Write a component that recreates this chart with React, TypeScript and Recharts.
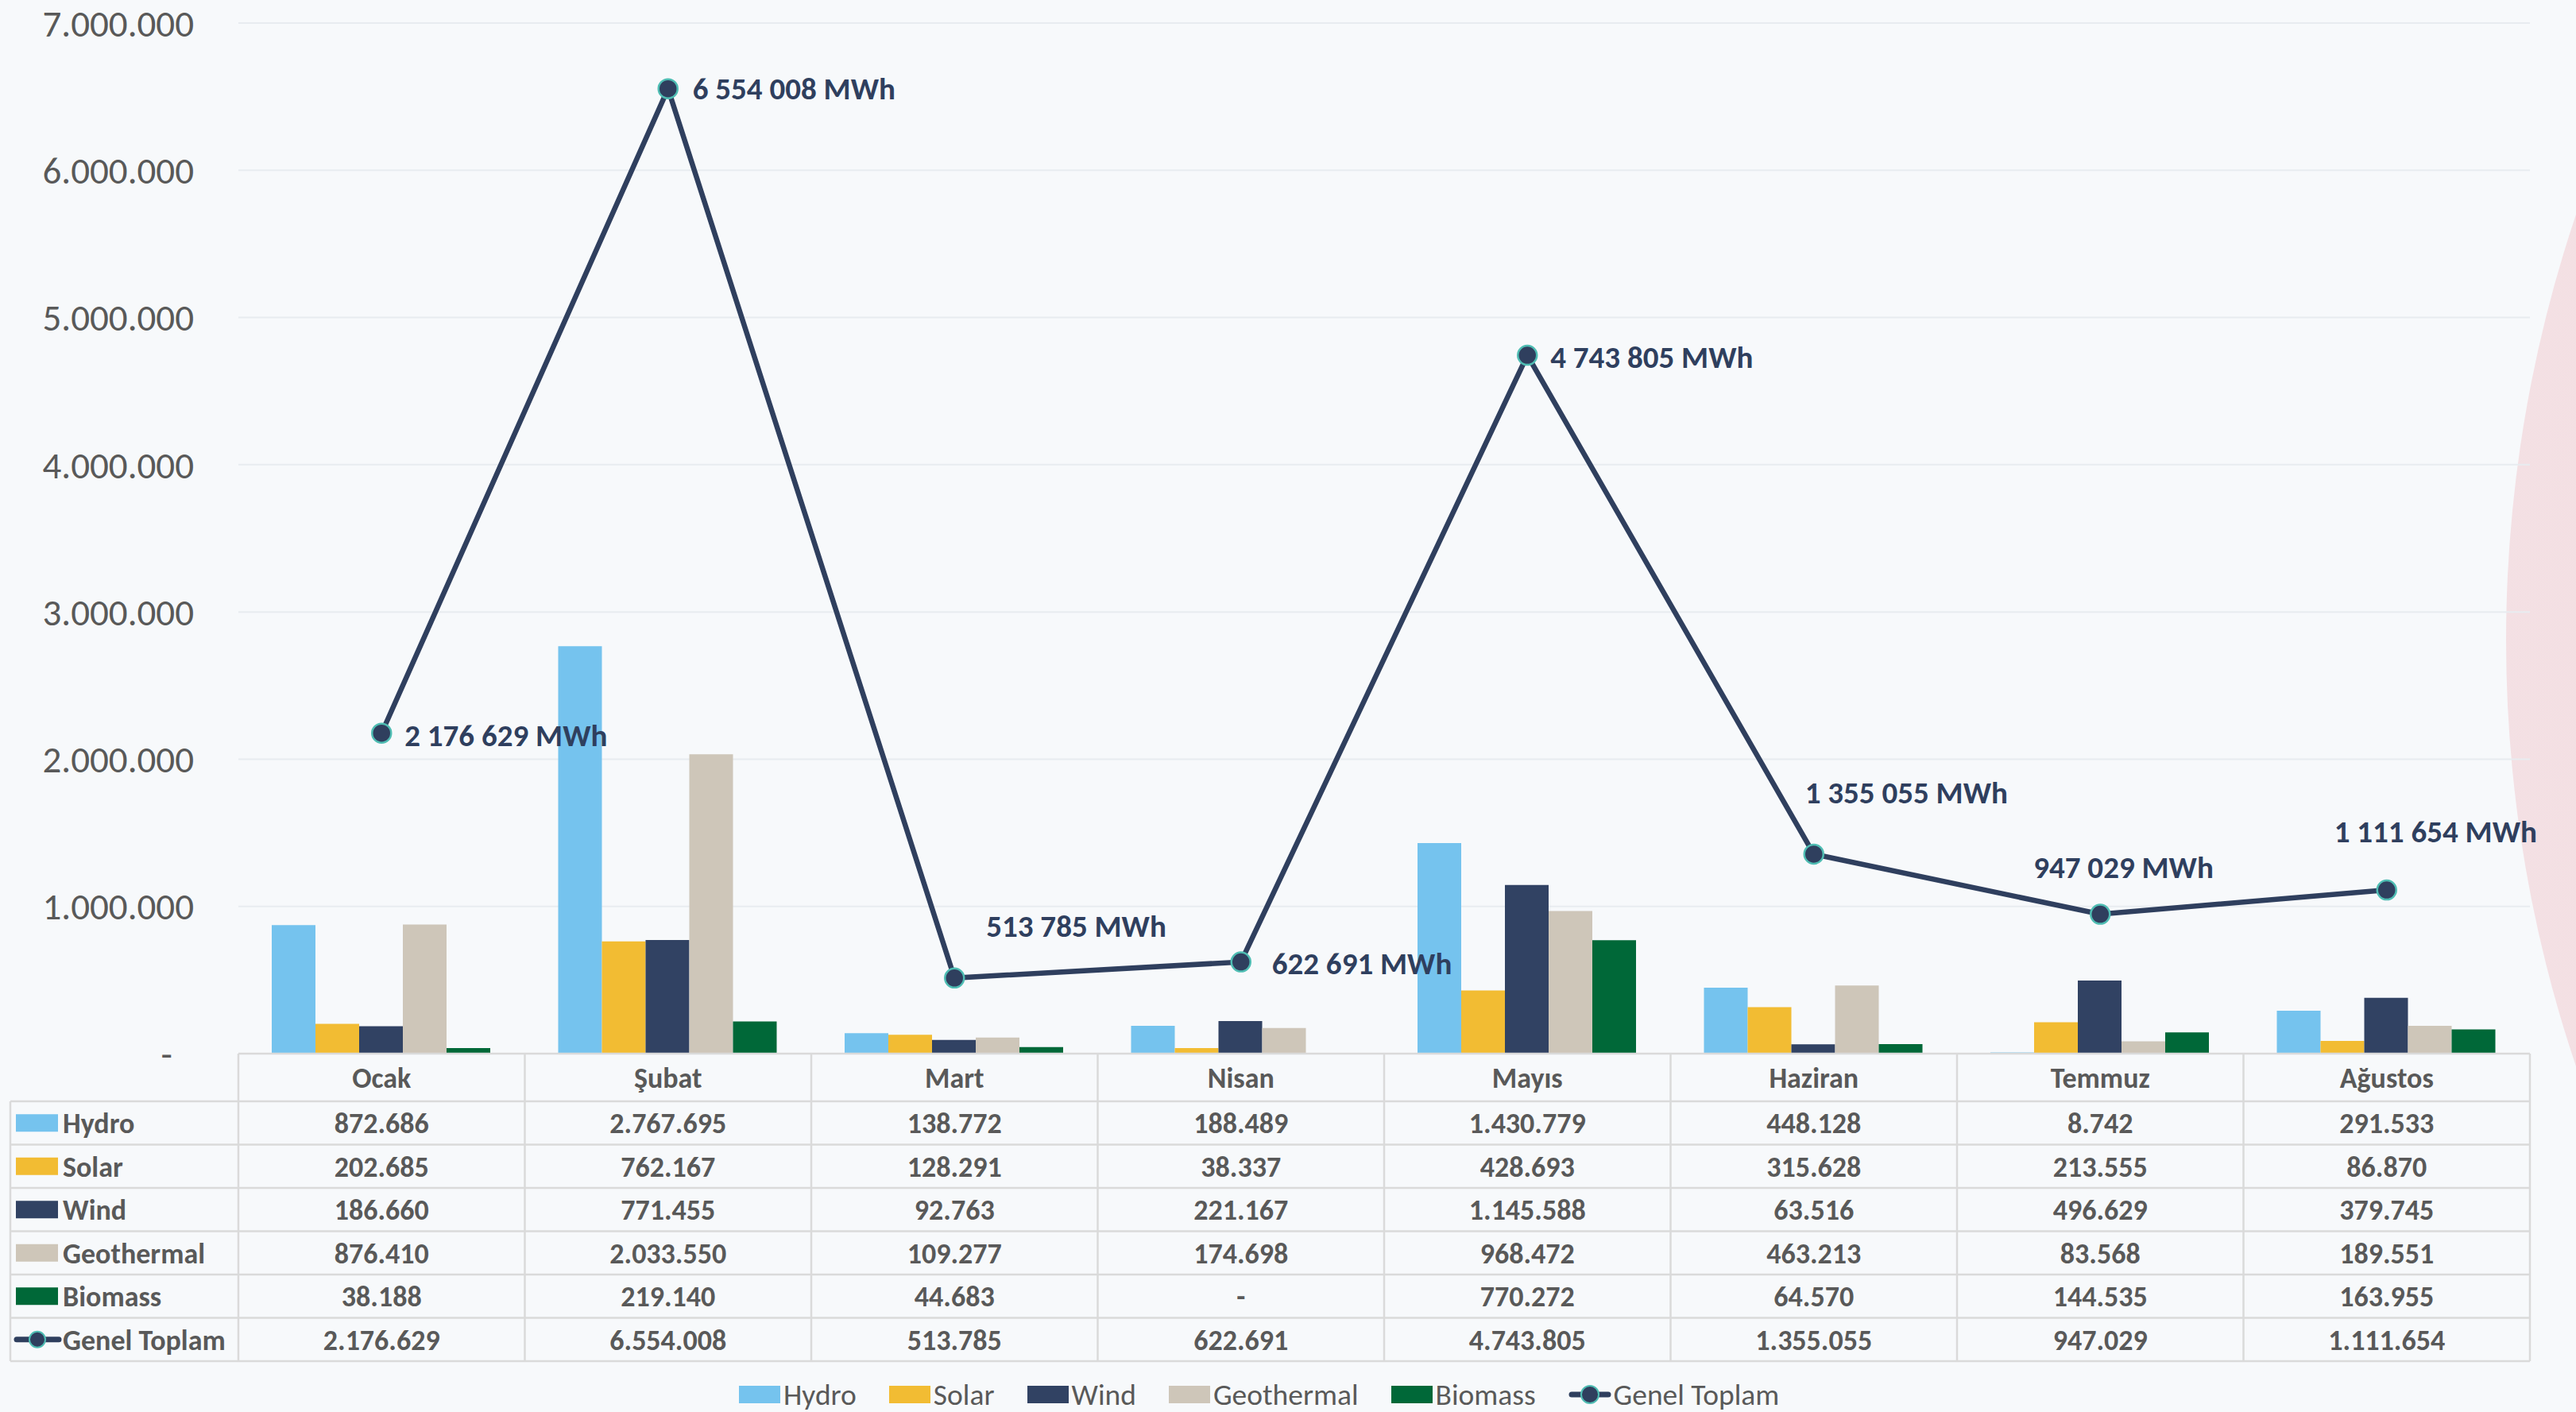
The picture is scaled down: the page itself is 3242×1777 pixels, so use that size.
import React from 'react'
import { ComposedChart, Bar, Line, XAxis, YAxis, CartesianGrid, Legend, LabelList } from 'recharts'

const months = ['Ocak', 'Şubat', 'Mart', 'Nisan', 'Mayıs', 'Haziran', 'Temmuz', 'Ağustos']
const hydro = [872686, 2767695, 138772, 188489, 1430779, 448128, 8742, 291533]
const solar = [202685, 762167, 128291, 38337, 428693, 315628, 213555, 86870]
const wind = [186660, 771455, 92763, 221167, 1145588, 63516, 496629, 379745]
const geothermal = [876410, 2033550, 109277, 174698, 968472, 463213, 83568, 189551]
const biomass = [38188, 219140, 44683, 0, 770272, 64570, 144535, 163955]
const total = [2176629, 6554008, 513785, 622691, 4743805, 1355055, 947029, 1111654]
const yTicks = [0, 1000000, 2000000, 3000000, 4000000, 5000000, 6000000, 7000000]

const W = 3242
const H = 1777
const PLOT_LEFT = 300
const PLOT_RIGHT = 3184
const COL_W = (PLOT_RIGHT - PLOT_LEFT) / months.length
const HEADER_H = 60
const ROW_H = 54.5
const FONT = "Carlito, 'Liberation Sans Narrow', Lato, sans-serif"
const GRAY = '#595959'
const NAVY = '#2F3F5E'
const TEAL = '#4FBDB3'
const BORDER = '#DADADA'

const series = [
  { key: 'hydro', name: 'Hydro', color: '#75C3EE', values: hydro },
  { key: 'solar', name: 'Solar', color: '#F2BC33', values: solar },
  { key: 'wind', name: 'Wind', color: '#314263', values: wind },
  { key: 'geothermal', name: 'Geothermal', color: '#CEC6B9', values: geothermal },
  { key: 'biomass', name: 'Biomass', color: '#006838', values: biomass },
]

// label placement relative to each point (placed by hand in the original)
const labelOffsets = [
  { dx: 29, dy: 2 }, { dx: 31, dy: 0 }, { dx: 40, dy: -66 }, { dx: 39, dy: 2 },
  { dx: 29, dy: 2 }, { dx: -11, dy: -78 }, { dx: -84, dy: -59 }, { dx: -66, dy: -74 },
]

const data = months.map((m, i) => ({
  month: m,
  hydro: hydro[i],
  solar: solar[i],
  wind: wind[i],
  geothermal: geothermal[i],
  biomass: biomass[i],
  total: total[i],
}))

const dotted = (v: number) => String(v).replace(/\B(?=(\d{3})+(?!\d))/g, '.')
const cell = (v: number) => (v === 0 ? '-' : dotted(v))
const spaced = (v: number) => String(v).replace(/\B(?=(\d{3})+(?!\d))/g, ' ') + ' MWh'

const YTick = (props: any) => {
  const { x, y, payload } = props
  const zero = payload.value === 0
  return (
    <text x={zero ? x - 27 : x} y={y} dy="0.355em" textAnchor="end" fill={GRAY} fontSize={47} fontFamily={FONT}>
      {zero ? '-' : dotted(payload.value)}
    </text>
  )
}

const TableTick = (props: any) => {
  const { x, y, payload } = props
  const i = payload.index
  const left = x - COL_W / 2
  const right = x + COL_W / 2
  const rowsTop = y + HEADER_H
  const bottom = rowsTop + ROW_H * (series.length + 1)
  const textProps = { fill: GRAY, fontSize: 36, fontWeight: 700, fontFamily: FONT, textAnchor: 'middle' as const }
  return (
    <g>
      {i === 0 && (
        <g>
          <line x1={13} x2={PLOT_RIGHT} y1={rowsTop} y2={rowsTop} stroke={BORDER} strokeWidth={2.5} />
          {[...series, null].map((s, r) => {
            const cy = rowsTop + ROW_H * r + ROW_H / 2
            return (
              <g key={r}>
                <line x1={13} x2={PLOT_RIGHT} y1={rowsTop + ROW_H * (r + 1)} y2={rowsTop + ROW_H * (r + 1)} stroke={BORDER} strokeWidth={2.5} />
                {s ? (
                  <rect x={20} y={cy - 11} width={53} height={22} fill={s.color} />
                ) : (
                  <g>
                    <line x1={21} x2={74} y1={cy} y2={cy} stroke={NAVY} strokeWidth={7} strokeLinecap="round" />
                    <circle cx={47} cy={cy} r={10} fill={NAVY} stroke={TEAL} strokeWidth={2} />
                  </g>
                )}
                <text x={79} y={cy} dy="0.355em" {...textProps} textAnchor="start">
                  {s ? s.name : 'Genel Toplam'}
                </text>
              </g>
            )
          })}
          <line x1={13} x2={13} y1={rowsTop} y2={bottom} stroke={BORDER} strokeWidth={2.5} />
        </g>
      )}
      <line x1={left} x2={left} y1={y} y2={bottom} stroke={BORDER} strokeWidth={2.5} />
      {i === months.length - 1 && <line x1={right} x2={right} y1={y} y2={bottom} stroke={BORDER} strokeWidth={2.5} />}
      <text x={x} y={y + HEADER_H / 2} dy="0.355em" {...textProps}>{payload.value}</text>
      {series.map((s, r) => (
        <text key={s.key} x={x} y={rowsTop + ROW_H * r + ROW_H / 2} dy="0.355em" {...textProps}>
          {cell(s.values[i])}
        </text>
      ))}
      <text x={x} y={rowsTop + ROW_H * series.length + ROW_H / 2} dy="0.355em" {...textProps}>
        {cell(total[i])}
      </text>
    </g>
  )
}

const TotalLabel = (props: any) => {
  const { x, y, value, index } = props
  const o = labelOffsets[index]
  return (
    <text x={x + o.dx} y={y + o.dy} dy="0.355em" fill={NAVY} fontSize={39} fontWeight={700} fontFamily={FONT}>
      {spaced(value)}
    </text>
  )
}

const LegendContent = () => (
  <div style={{ height: 64, display: 'flex', alignItems: 'center', paddingTop: 20, boxSizing: 'border-box', marginLeft: 930, gap: 41, fontFamily: FONT, fontSize: 37.5, color: GRAY }}>
    {series.map((s) => (
      <div key={s.key} style={{ display: 'flex', alignItems: 'center', gap: 4 }}>
        <span style={{ width: 52, height: 22, background: s.color, display: 'inline-block' }} />
        <span>{s.name}</span>
      </div>
    ))}
    <div style={{ display: 'flex', alignItems: 'center', gap: 3 }}>
      <svg width={54} height={26}>
        <line x1={4} x2={50} y1={13} y2={13} stroke={NAVY} strokeWidth={7} strokeLinecap="round" />
        <circle cx={27} cy={13} r={11} fill={NAVY} stroke={TEAL} strokeWidth={2} />
      </svg>
      <span>Genel Toplam</span>
    </div>
  </div>
)

export default function App() {
  return (
    <div style={{ position: 'absolute', left: 0, top: 0, width: W, height: H, overflow: 'hidden', background: '#F7F9FB' }}>
      <div style={{ position: 'absolute', left: 3154, top: 806 - 1676, width: 3352, height: 3352, borderRadius: '50%', background: 'radial-gradient(circle at 30% 50%, rgba(240,200,205,0.6), rgba(240,200,205,0.35))' }} />
      <ComposedChart
        width={W}
        height={H}
        data={data}
        margin={{ top: 29, right: W - PLOT_RIGHT, left: 0, bottom: 0 }}
        barCategoryGap={42}
        barGap={0}
      >
        <CartesianGrid vertical={false} stroke="#E8ECF0" strokeWidth={2} />
        <XAxis
          dataKey="month"
          height={387}
          interval={0}
          tickSize={0}
          tickMargin={0}
          axisLine={{ stroke: BORDER, strokeWidth: 2.5 }}
          tick={<TableTick />}
        />
        <YAxis
          width={PLOT_LEFT}
          domain={[0, 7000000]}
          ticks={yTicks}
          axisLine={false}
          tickLine={false}
          tickSize={0}
          tickMargin={56}
          tick={<YTick />}
        />
        <Legend verticalAlign="bottom" content={<LegendContent />} />
        {series.map((s) => (
          <Bar key={s.key} dataKey={s.key} name={s.name} fill={s.color} isAnimationActive={false} />
        ))}
        <Line
          dataKey="total"
          name="Genel Toplam"
          type="linear"
          stroke={NAVY}
          strokeWidth={6.5}
          dot={{ r: 12, fill: NAVY, stroke: TEAL, strokeWidth: 2.5 }}
          activeDot={false}
          isAnimationActive={false}
        >
          <LabelList dataKey="total" content={<TotalLabel />} />
        </Line>
      </ComposedChart>
    </div>
  )
}
